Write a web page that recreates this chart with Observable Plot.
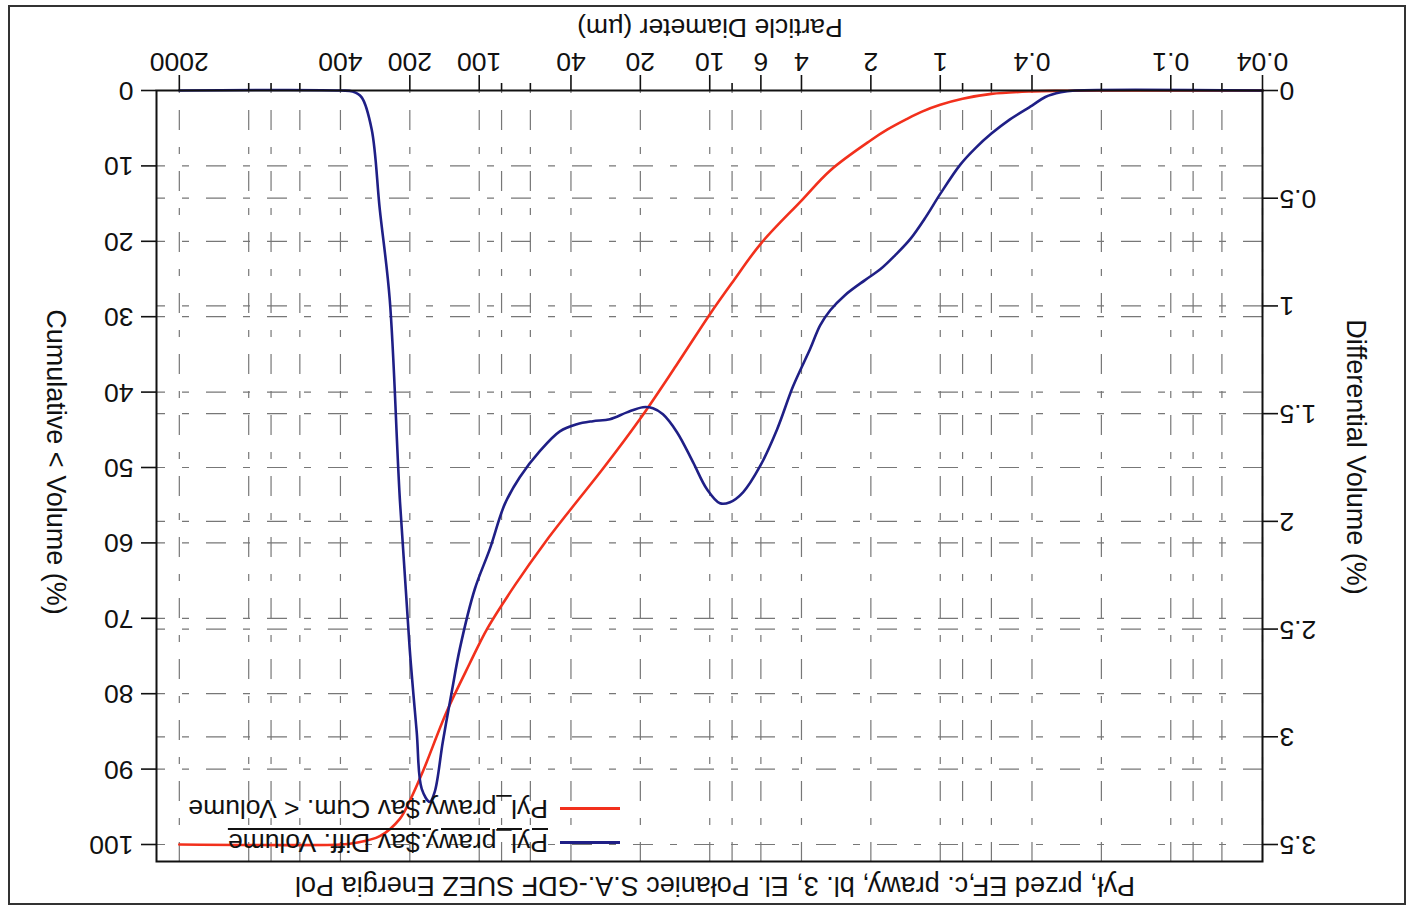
<!DOCTYPE html>
<html><head><meta charset="utf-8">
<script src="https://cdn.jsdelivr.net/npm/d3@7"></script>
<script src="https://cdn.jsdelivr.net/npm/@observablehq/plot@0.6"></script>
<style>
html,body{margin:0;padding:0;background:#fff;}
#page{position:absolute;left:0;top:0;width:1414px;height:910px;transform:rotate(180deg);transform-origin:50% 50%;background:#fff;font-family:"Liberation Sans",Arial,sans-serif;color:#111;overflow:hidden}
#border{position:absolute;left:8px;top:5px;width:1394px;height:896px;border:2px solid #333;}
#chart{position:absolute;left:0;top:0}
.lbl{position:absolute;font-size:27px;white-space:nowrap;line-height:1;}
.c{transform:translate(-50%,-50%);}
.v{transform:translate(-50%,-50%) rotate(-90deg);}
#legend{position:absolute;left:794px;top:50px;font-size:26.5px;line-height:34px;}
#legend .row{display:flex;align-items:center;white-space:nowrap;}
#legend .sw{display:inline-block;width:60px;height:0;border-top:3px solid;margin-right:12px;}
</style></head><body>
<div id="page">
  <div id="border"></div>
  <div id="chart"></div>
  <div class="lbl c" id="title" style="left:699px;top:25px;">Pył, przed EF,c. prawy, bl. 3, El. Połaniec S.A.-GDF SUEZ Energia Pol</div>
  <div class="lbl c" id="xlabel" style="left:704px;top:882px;font-size:26.5px;">Particle Diameter (µm)</div>
  <div class="lbl v" id="ylabelL" style="left:59px;top:453px;">Differential Volume (%)</div>
  <div class="lbl v" id="ylabelR" style="left:1359px;top:448px;">Cumulative &lt; Volume (%)</div>
  <div id="legend"></div>
</div>
<script>
// ---- data ----
const cumSize  = [0.04, 0.2, 0.3,  0.4,  0.6,  0.8, 1,   1.2, 1.4, 1.7, 2,   3,    4,    6,    8,    10,   14,   20,   28.8, 40,   52, 70,   92,   110, 138,  176,  200,  221,  270,  347,  400, 2000];
const cumValue = [0,    0,   0.04, 0.12, 0.45, 1.1, 1.9, 2.8, 3.8, 5.2, 6.6, 10.6, 14.6, 20.3, 25.5, 29.7, 36.5, 43.5, 50,   55.5, 60, 65.6, 71.3, 76,  82.3, 90.4, 94.2, 96.6, 98.9, 99.8, 100, 100];

const diffSize  = [0.04, 0.26, 0.3,   0.35, 0.4,  0.5,   0.6, 0.7,   0.82,  1.0,  1.16, 1.35, 1.57,  1.82, 2.12, 2.59, 3.0,  3.32, 3.67, 4.35,  5.10,  6.05,  7.17,  8.17,  9.03,  10.28, 11.82, 13.87, 15.96, 17.64, 19.49, 22.87, 27.11, 32.13, 37.71, 44.69, 54.6,  66.7,  77.5, 90,    104.5, 121.5, 131.6, 143.9, 156,   163.9, 177.6, 186.7, 200.2, 221,   244.5, 270,   292.7, 323.6, 354,   400, 2000];
const diffValue = [0,    0,    0.008, 0.03, 0.07, 0.135, 0.2, 0.265, 0.345, 0.48, 0.59, 0.69, 0.765, 0.83, 0.88, 0.95, 1.02, 1.09, 1.20, 1.373, 1.572, 1.744, 1.865, 1.911, 1.916, 1.851, 1.725, 1.586, 1.503, 1.475, 1.470, 1.494, 1.526, 1.535, 1.549, 1.582, 1.674, 1.795, 1.92, 2.129, 2.314, 2.593, 2.792, 3.024, 3.256, 3.302, 3.242, 2.978, 2.593, 1.897, 0.969, 0.552, 0.181, 0.032, 0.005, 0,   0];

const xMajorTicks = [0.04, 0.1, 0.4, 1, 2, 4, 6, 10, 20, 40, 100, 200, 400, 2000];
const xMinorTicks = [0.06, 0.08, 0.2, 0.6, 0.8, 8, 60, 80, 600, 800, 1000];
const diffTicks = [0, 0.5, 1, 1.5, 2, 2.5, 3, 3.5];
const cumTicks = [0, 10, 20, 30, 40, 50, 60, 70, 80, 90, 100];
const seriesNames = ["Pyl_prawy.$av Diff. Volume", "Pyl_prawy.$av Cum. < Volume"];
const seriesColors = ["#1f1f86", "#f2301c"];

// ---- chart ----
const W = 1414, H = 910;
const k = 3.5 / 100;               // cumulative % -> differential scale
const yMax = 3.5 * (819 - 48) / (819 - 65);
const cumData = cumSize.map((s, i) => ({size: s, v: cumValue[i] * k}));
const diffData = diffSize.map((s, i) => ({size: s, v: diffValue[i]}));
const dash = "20,17,7,17";
const FS = 26.5;
const noLabel = () => "";

const chart = Plot.plot({
  width: W, height: H,
  marginLeft: 151, marginRight: W - 1257, marginTop: 48, marginBottom: H - 819,
  x: {type: "log", domain: [0.04, 2512]},
  y: {domain: [0, yMax]},
  style: {fontFamily: '"Liberation Sans", Arial, sans-serif', fontSize: FS + "px", color: "#111", background: "transparent"},
  marks: [
    Plot.ruleX(xMajorTicks.concat(xMinorTicks), {stroke: "#777", strokeWidth: 1.2, strokeDasharray: dash}),
    Plot.ruleY(diffTicks.slice(1), {stroke: "#777", strokeWidth: 1.2, strokeDasharray: dash}),
    Plot.ruleY(cumTicks.slice(1, -1).map(v => v * k), {stroke: "#777", strokeWidth: 1.2, strokeDasharray: dash}),
    Plot.line(cumData, {x: "size", y: "v", stroke: seriesColors[1], strokeWidth: 2.6, curve: "catmull-rom"}),
    Plot.line(diffData, {x: "size", y: "v", stroke: seriesColors[0], strokeWidth: 2.6, curve: "catmull-rom"}),
    Plot.frame({stroke: "#111", strokeWidth: 2}),
    Plot.axisX(xMajorTicks, {tickSize: 16, strokeWidth: 1.6, tickFormat: noLabel, label: null}),
    Plot.text(xMajorTicks, {x: d => d, text: d => String(d), frameAnchor: "bottom", lineAnchor: "top", dy: 19, fontSize: FS, fill: "#111"}),
    Plot.axisX(xMinorTicks, {tickSize: 8, strokeWidth: 1.6, tickFormat: noLabel, label: null}),
    Plot.axisY(diffTicks, {anchor: "left", tickSize: 15, tickPadding: 2, strokeWidth: 1.6, tickFormat: d => String(d), fontSize: FS, label: null}),
    Plot.axisY(cumTicks.map(v => v * k), {anchor: "right", tickSize: 15, tickPadding: 8, strokeWidth: 1.6, tickFormat: d => String(Math.round(d / k)), fontSize: FS, label: null})
  ]
});
document.getElementById("chart").appendChild(chart);

// ---- legend ----
const legend = document.getElementById("legend");
seriesNames.forEach((name, i) => {
  const row = document.createElement("div");
  row.className = "row";
  const sw = document.createElement("span");
  sw.className = "sw";
  sw.style.borderColor = seriesColors[i];
  const tx = document.createElement("span");
  tx.textContent = name;
  if (i === 0) { tx.style.textDecoration = "underline"; tx.style.textUnderlineOffset = "4px"; }
  row.appendChild(sw); row.appendChild(tx);
  legend.appendChild(row);
});
</script>
</body></html>
